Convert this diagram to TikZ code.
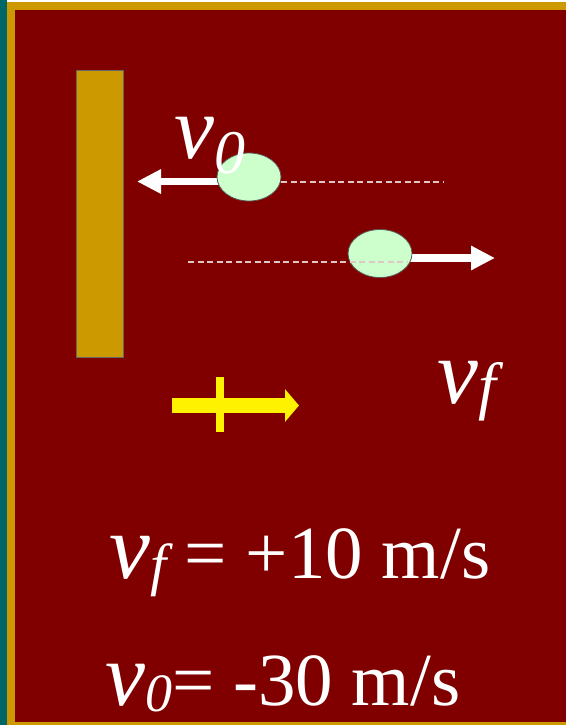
\documentclass[tikz,border=0pt]{standalone}
\usepackage{fontspec}
\setmainfont{Liberation Serif}
\usetikzlibrary{arrows.meta,calc,shapes.geometric}

\definecolor{bordeaux}{RGB}{128,0,0}
\definecolor{dore}{RGB}{204,153,0}
\definecolor{sarcelle}{RGB}{0,102,102}
\definecolor{vertpale}{RGB}{204,255,204}
\definecolor{trace}{RGB}{225,200,200}

% v with a subscript: size of v, size of subscript, subscript, drop
\newcommand{\vitesse}[4]{{\fontsize{#1}{#1}\selectfont\itshape v}\raisebox{-#4pt}{\fontsize{#2}{#2}\selectfont\itshape #3}}

\begin{document}
\begin{tikzpicture}[x=1pt,y=-1pt]
        \tikzstyle{balle} = [ellipse, minimum width=64pt, minimum height=48pt, inner sep=0pt, draw=black!65, line width=0.8pt, fill=vertpale]
        \tikzstyle{fleche_blanche} = [draw=white, line width=7.5pt, -{Triangle[length=24pt,width=23pt]}]
        \tikzstyle{pointille} = [draw=trace, line width=1.2pt, dash pattern=on 6pt off 3.5pt]
        \tikzstyle{texte} = [text=white, inner sep=0pt, anchor=base west, font=\fontsize{75}{80}\selectfont]
        \useasboundingbox (0,0) rectangle (566,725);
        \fill[sarcelle] (0,0) rectangle (7,725);
        \fill[dore] (7,2) rectangle (566,725);
        \fill[bordeaux] (15,10) rectangle (566,722);

        \node (mur) [rectangle, draw=black!60, line width=0.8pt, fill=dore, minimum width=47pt, minimum height=287pt, inner sep=0pt] at (100,213.5) {};

        \coordinate (pointe_avant) at (137,181.5);
        \coordinate (pointe_apres) at (495,258);
        \coordinate (trace_avant_fin) at (444,182);
        \coordinate (trace_apres_debut) at (188,262);

        \node (balle_avant_pos) [inner sep=0pt] at (249,177) {};
        \draw [fleche_blanche] (balle_avant_pos.center |- pointe_avant) -- (pointe_avant);
        \node (balle_avant) [balle] at (249,177) {};
        \draw [pointille] (balle_avant.east |- trace_avant_fin) -- (trace_avant_fin);

        \node (balle_apres_pos) [inner sep=0pt] at (380,253.5) {};
        \draw [fleche_blanche] (balle_apres_pos.center |- pointe_apres) -- (pointe_apres);
        \node (balle_apres) [balle] at (380,253.5) {};
        \draw [pointille] (trace_apres_debut) -- (balle_apres.center |- trace_apres_debut) -- ++(27,0);

        \node (v_zero) [texte] at (174,158) {\vitesse{90}{62}{0}{15}};
        \node (v_finale) [texte] at (437,403) {\vitesse{92}{64}{f}{4}};

        % sens positif
        \coordinate (axe_debut) at (172,405.5);
        \coordinate (axe_fin) at (299,405.5);
        \coordinate (repere_haut) at (220,377);
        \coordinate (repere_bas) at (220,432);
        \draw [yellow, line width=15pt, -{Triangle[length=14pt,width=32pt]}] (axe_debut) -- (axe_fin);
        \draw [yellow, line width=8pt] (repere_haut) -- (repere_bas);

        \node (eq_finale) [texte] at (109,578) {\vitesse{92}{58}{f}{6} = +10 m/s};
        \node (eq_zero) [texte] at (105,705) {\vitesse{90}{54}{0}{6}= -30 m/s};
\end{tikzpicture}
\end{document}
